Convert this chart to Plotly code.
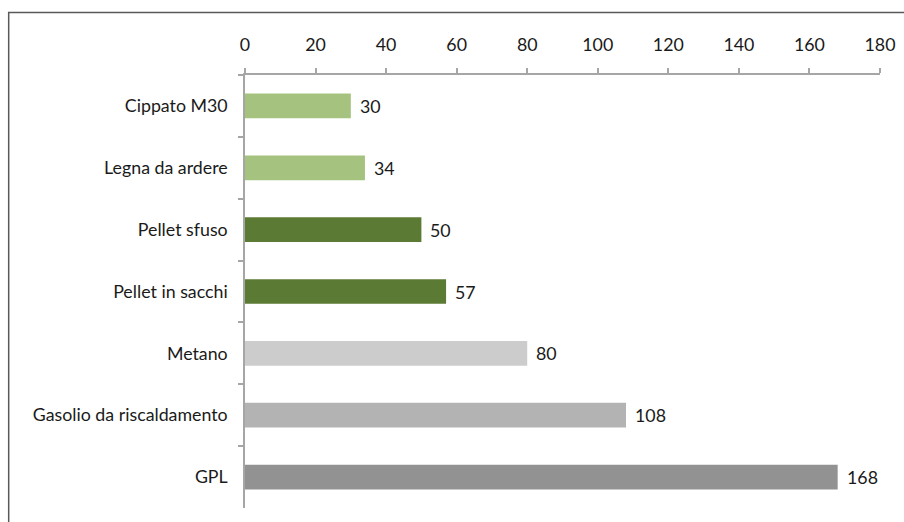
import plotly.graph_objects as go

# Costo del calore per combustibile
categories = [
    "Cippato M30",
    "Legna da ardere",
    "Pellet sfuso",
    "Pellet in sacchi",
    "Metano",
    "Gasolio da riscaldamento",
    "GPL",
]
values = [30, 34, 50, 57, 80, 108, 168]
bar_colors = ["#a5c37f", "#a5c37f", "#5b7a33", "#5b7a33", "#cccccc", "#b3b3b3", "#929292"]
x_ticks = [0, 20, 40, 60, 80, 100, 120, 140, 160, 180]

FONT = "Lato, 'Open Sans', sans-serif"
FONT_SIZE = 17.8
TEXT_COLOR = "#1a1a1a"
AXIS_COLOR = "#a6a6a6"

W, H = 904, 522
ML, MR, MT, MB = 244.5, 24, 75, 14.3

fig = go.Figure(
    go.Bar(
        x=values,
        y=categories,
        orientation="h",
        marker=dict(color=bar_colors, line=dict(width=0)),
        width=0.4,
        hoverinfo="x+y",
    )
)

# value labels just past the end of each bar
for cat, v in zip(categories, values):
    fig.add_annotation(
        x=v, y=cat, text=str(v), showarrow=False,
        xanchor="left", yanchor="middle", xshift=7,
        font=dict(family=FONT, size=FONT_SIZE, color=TEXT_COLOR),
    )

# outer frame of the chart area
pw = W - ML - MR
ph = H - MT - MB
fig.add_shape(
    type="rect", xref="paper", yref="paper", layer="above",
    x0=(8 - ML) / pw, x1=(W + 10 - ML) / pw,
    y0=-(MB + 10) / ph, y1=(H - 12.5 - MB) / ph,
    line=dict(color="#595959", width=1.5),
    fillcolor="rgba(0,0,0,0)",
)

fig.update_layout(
    width=W, height=H,
    margin=dict(l=ML, r=MR, t=MT, b=MB, autoexpand=False),
    paper_bgcolor="white", plot_bgcolor="white",
    showlegend=False,
    font=dict(family=FONT, size=FONT_SIZE, color=TEXT_COLOR),
    xaxis=dict(
        side="top", range=[0, 180], tickvals=x_ticks,
        ticks="outside", ticklen=5, tickcolor=AXIS_COLOR, tickwidth=1.5,
        showline=True, linecolor=AXIS_COLOR, linewidth=1.5,
        showgrid=False, zeroline=False, ticklabelstandoff=10,
        tickfont=dict(family=FONT, size=FONT_SIZE, color=TEXT_COLOR),
    ),
    yaxis=dict(
        autorange="reversed", type="category",
        ticks="outside", ticklen=5, tickcolor=AXIS_COLOR, tickwidth=1.5,
        tickson="boundaries",
        showline=True, linecolor=AXIS_COLOR, linewidth=1.5,
        showgrid=False, zeroline=False, ticklabelstandoff=12,
        tickfont=dict(family=FONT, size=FONT_SIZE, color=TEXT_COLOR),
    ),
)

fig.write_html("out.html")
